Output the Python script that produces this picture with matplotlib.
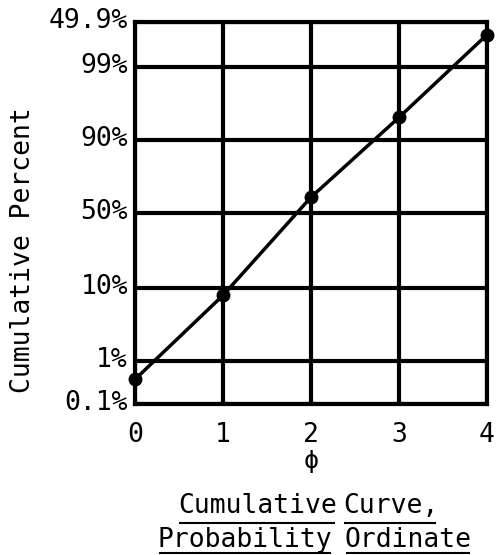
import matplotlib
matplotlib.use("Agg")
import matplotlib.pyplot as plt
import matplotlib.transforms as mtrans
import numpy as np
from statistics import NormalDist
from matplotlib.lines import Line2D

# Data
phi = [0, 1, 2, 3, 4]
cum_pct = [0.4, 8.3, 61.0, 94.6, 99.8]
y_ticks = [0.1, 1, 10, 50, 90, 99, 99.9]
y_labels = ["0.1%", "1%", "10%", "50%", "90%", "99%", "49.9%"]
x_ticks = [0, 1, 2, 3, 4]

# the drawn probability grid is spaced almost evenly
grid_pos = np.array([0, 43, 116, 191, 264, 337, 382], dtype=float)
nd = NormalDist()
grid_z = np.array([nd.inv_cdf(p / 100) for p in y_ticks])


def fwd(p):
    p = np.clip(np.asarray(p, dtype=float), 1e-6, 100 - 1e-6)
    z = np.array([nd.inv_cdf(float(v) / 100) for v in p.ravel()])
    return np.interp(z, grid_z, grid_pos).reshape(p.shape)


def inv(y):
    y = np.asarray(y, dtype=float)
    z = np.interp(y.ravel(), grid_pos, grid_z)
    return np.array([nd.cdf(float(v)) * 100 for v in z]).reshape(y.shape)


plt.rcParams["font.family"] = "DejaVu Sans Mono"
W, H = 499, 555

fig = plt.figure(figsize=(4.99, 5.55), dpi=100)
ax = fig.add_axes([0.2705, 0.272, 0.7055, 0.688])
ax.set_yscale("function", functions=(fwd, inv))
ax.set_xlim(0, 4)
ax.set_ylim(0.1, 99.9)

ax.set_yticks(y_ticks)
ax.set_yticklabels(y_labels)
ax.set_xticks(x_ticks)
ax.set_xticklabels([str(t) for t in x_ticks])
ax.minorticks_off()
ax.tick_params(length=0, labelsize=19)
ax.tick_params(axis="y", pad=5)
ax.tick_params(axis="x", pad=13)
# y labels sit a little above their lines
shift = mtrans.ScaledTranslation(0, 4 / 100, fig.dpi_scale_trans)
for lab in ax.get_yticklabels():
    lab.set_transform(lab.get_transform() + shift)

ax.grid(True, color="black", linewidth=3)
for s in ax.spines.values():
    s.set_linewidth(3)

ax.plot(phi, cum_pct, color="black", linewidth=2.5, marker="o", markersize=9,
        clip_on=False, zorder=5)

fig.text(23 / W, 1 - 250 / H, "Cumulative Percent", rotation=90,
         ha="center", va="center", fontsize=19)
ax.annotate("ϕ", xy=(2, 0), xycoords=("data", "axes fraction"),
            xytext=(0, -57), textcoords="offset pixels",
            ha="center", va="center", fontsize=18)

# caption: each word placed and underlined on its own
words = [("Cumulative", 178, 513, 10), ("Curve,", 343, 513, 10),
         ("Probability", 158, 547, 6), ("Ordinate", 345, 547, 6)]
fig.canvas.draw()
r = fig.canvas.get_renderer()
for w, xp, yp, off in words:
    t = fig.text(xp / W, 1 - yp / H, w, ha="left", va="baseline", fontsize=19)
    bb = t.get_window_extent(r)
    uy = 1 - (yp + off) / H
    fig.add_artist(Line2D([(bb.x0 + 2) / W, (bb.x1 - 3) / W], [uy, uy],
                          color="black", linewidth=1.5,
                          transform=fig.transFigure))

fig.savefig("out.png", dpi=100)
